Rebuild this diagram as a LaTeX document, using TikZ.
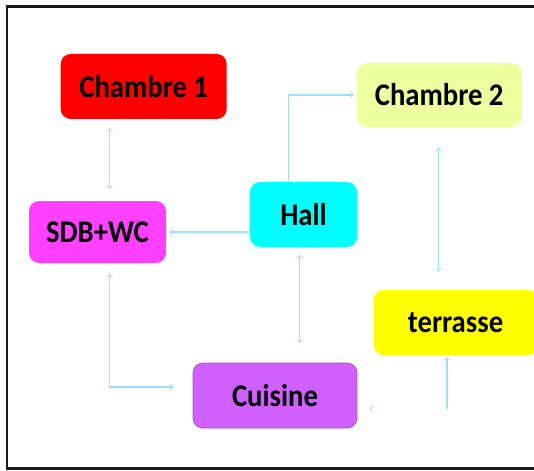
\documentclass[tikz,border=0pt]{standalone}
\usepackage{fontspec}
\setmainfont{Carlito}
\usepackage{graphicx}
\usepackage{tikz}
\usepackage{xcolor}
\usetikzlibrary{arrows}
\usetikzlibrary{positioning}
\usetikzlibrary{calc}

\def\px{0.75pt}
\newcommand{\tall}[1]{\scalebox{1}[1.1]{#1}}
\definecolor{linkblue}{RGB}{160,222,250}
\definecolor{chred}{RGB}{255,0,0}
\definecolor{chlime}{RGB}{238,255,160}
\definecolor{hallcyan}{RGB}{0,255,255}
\definecolor{sdbpink}{RGB}{255,64,255}
\definecolor{terryellow}{RGB}{255,255,0}
\definecolor{cuisviolet}{RGB}{208,96,255}

\tikzset{
	room/.style={draw=none, rounded corners={10*\px}, inner sep=0pt,
		minimum height={64*\px}, font=\fontsize{21.5}{25}\selectfont\bfseries},
	link/.style={draw=linkblue, line width={0.8pt}, >=to},
	frame/.style={draw=black!90, line width={2.5*\px}}
}

\begin{document}
\begin{tikzpicture}[x=\px, y=-\px]
	\useasboundingbox (0,0) rectangle (534,470);
	\draw[frame] (534,6.5) -- (7,6.5) -- (7,468.5) -- (534,468.5);

	\node[room, fill=chred, minimum width={166*\px}, minimum height={65*\px}] (chambreA) at (143.7, 86.5) {\tall{Chambre 1}};
	\node[room, fill=chlime, minimum width={165*\px}] (chambreB) at (439.2, 95) {\tall{Chambre 2}};
	\node[room, fill=hallcyan, minimum width={107*\px}, minimum height={65*\px}] (hall) at (303.5, 214.5) {\tall{Hall}};
	\node[room, fill=sdbpink, minimum width={137*\px}, minimum height={62*\px}] (sdb) at (97.5, 232) {\tall{SDB+WC}};
	\node[room, fill=terryellow, minimum width={164*\px}, minimum height={65*\px}] (terrasse) at (455.6, 322.5) {\tall{terrasse}};
	\node[room, fill=cuisviolet, draw=cuisviolet!80!black, line width={0.6pt}, minimum width={164*\px}, minimum height={65*\px}] (cuisine) at (275, 395.5) {\tall{Cuisine}};

	\coordinate (laneA) at (109.7, 0);
	\coordinate (laneB) at (288.5, 0);
	\coordinate (laneC) at (299.7, 0);
	\coordinate (laneD) at (438.7, 0);
	\coordinate (laneE) at (447, 0);
	\coordinate (rowA) at (0, 387);
	\coordinate (rowB) at (0, 408.5);

	\draw[link, <->, shorten <={9*\px}, shorten >={12*\px}] (chambreA.south -| laneA) -- (sdb.north -| laneA);
	\draw[link, ->, shorten >={2.5*\px}] (hall.north -| laneB) |- (chambreB.west);
	\draw[link, ->, shorten >={3*\px}] (hall.west |- sdb.east) -- (sdb.east);
	\draw[link, <->, shorten <={8*\px}, shorten >={20*\px}] (hall.south -| laneC) -- (cuisine.north -| laneC);
	\draw[link, <->, shorten <={20*\px}, shorten >={18*\px}] (chambreB.south -| laneD) -- (terrasse.north -| laneD);
	\draw[link, <->, shorten <={11*\px}, shorten >={19*\px}] (sdb.south -| laneA) |- (cuisine.west |- rowA);
	\draw[link, <-, shorten <={2*\px}] (terrasse.south -| laneE) -- (laneE |- rowB);
	\draw[link, ->] ($(cuisine.east |- rowB)+(13,0)$) -- ($(cuisine.east |- rowB)+(12,0)$);
\end{tikzpicture}
\end{document}
